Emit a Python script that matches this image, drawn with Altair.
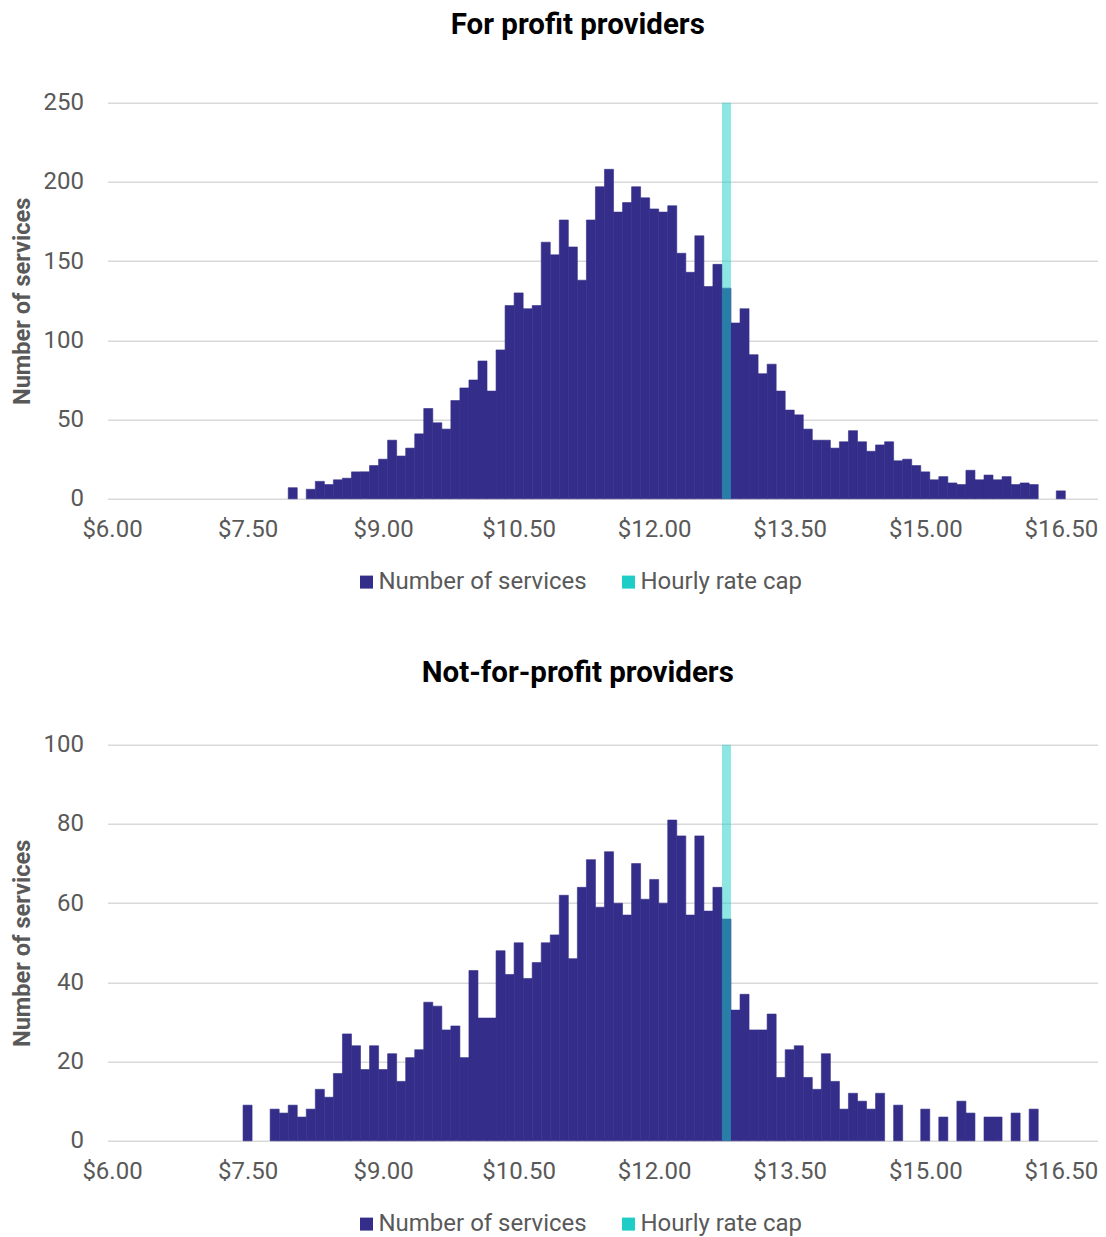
import altair as alt
import pandas as pd

# Price bins: $6.00 ... $16.90 in $0.10 steps (category axis of the histogram)
price_bins = [round(6.0 + 0.1 * i, 2) for i in range(110)]
tick_prices = [6.0, 7.5, 9.0, 10.5, 12.0, 13.5, 15.0, 16.5]

series_names = ["Number of services", "Hourly rate cap"]
cap_price = 12.80

# For profit providers: counts starting at bin index 20 ($8.00)
fp_start = 20
fp_counts = [7, 0, 6, 11, 9, 12, 13, 17, 17, 21, 25, 37, 27, 32, 41, 57, 48, 44, 62, 70,
             75, 87, 68, 94, 122, 130, 120, 122, 162, 154, 176, 159, 138, 176, 197, 208, 181, 187, 197, 190,
             183, 181, 185, 155, 143, 166, 134, 148, 133, 111, 120, 91, 79, 85, 68, 56, 53, 44, 37, 37,
             32, 36, 43, 36, 30, 34, 36, 24, 25, 21, 17, 12, 14, 10, 9, 18, 12, 15, 12, 14,
             9, 10, 9, 0, 0, 5]

# Not-for-profit providers: counts starting at bin index 15 ($7.50)
nfp_start = 15
nfp_counts = [9, 0, 0, 8, 7, 9, 6, 8, 13, 11, 17, 27, 24, 18, 24, 18, 22, 15, 21, 23,
              35, 34, 28, 29, 21, 43, 31, 31, 48, 42, 50, 41, 45, 50, 52, 62, 46, 64, 71, 59,
              73, 60, 57, 70, 61, 66, 60, 81, 77, 57, 77, 58, 64, 56, 33, 37, 28, 28, 32, 16,
              23, 24, 16, 13, 22, 15, 8, 12, 10, 8, 12, 0, 9, 0, 0, 8, 0, 6, 0, 10,
              7, 0, 6, 6, 0, 7, 0, 8]

BAR = "#342E8A"
CAP = "#1DCDC6"
GRAY = "#595959"
FONT = "Roboto"
HALF = 0.05
PLOT_W = 990.5


def panel(title, start, counts, ymax, ystep, title_offset, legend_y):
    prices = price_bins[start:start + len(counts)]
    df = pd.DataFrame({"price": prices, "count": counts})
    df = df[df["count"] > 0].copy()
    df["lo"] = df["price"] - HALF
    df["hi"] = df["price"] + HALF
    df["series"] = series_names[0]

    cap = pd.DataFrame({"price": [cap_price]})
    cap["lo"] = cap["price"] - HALF
    cap["hi"] = cap["price"] + HALF
    cap["base"] = 0
    cap["top"] = ymax

    xscale = alt.Scale(domain=[5.95, 16.9117], nice=False, zero=False)
    yscale = alt.Scale(domain=[0, ymax], nice=False)
    xaxis = alt.Axis(values=tick_prices, labelExpr="'$' + format(datum.value, '.2f')",
                     title=None, grid=False, ticks=False, domain=False,
                     labelFont=FONT, labelFontSize=24, labelColor=GRAY, labelPadding=19,
                     labelFlush=False, labelOverlap=False)
    yaxis = alt.Axis(values=list(range(0, ymax + 1, ystep)), title="Number of services",
                     ticks=False, domain=False, grid=True, gridColor="#D9D9D9", gridWidth=1.5,
                     labelFont=FONT, labelFontSize=24, labelColor=GRAY, labelPadding=24,
                     titleFont=FONT, titleFontSize=23.6, titleFontWeight="bold", titleColor=GRAY,
                     titleX=-85.3, titleY=198, titleAngle=270, titleAlign="center",
                     titleBaseline="middle", titleLimit=600)

    legend = alt.Legend(title=None, orient="none", legendX=247, legendY=legend_y,
                        direction="horizontal", symbolType="square", symbolSize=169,
                        symbolStrokeWidth=0, labelFont=FONT, labelFontSize=24,
                        labelColor=GRAY, labelOffset=0, columnPadding=29, padding=0,
                        labelLimit=600)

    bars = alt.Chart(df).mark_rect(stroke=BAR, strokeWidth=0.6).encode(
        x=alt.X("lo:Q", scale=xscale, axis=xaxis),
        x2="hi:Q",
        y=alt.Y("count:Q", scale=yscale, axis=yaxis),
        y2=alt.Y2(datum=0),
        color=alt.Color("series:N", scale=alt.Scale(domain=series_names, range=[BAR, CAP]),
                        legend=legend),
    )
    capbar = alt.Chart(cap).mark_rect(color=CAP, opacity=0.5).encode(
        x=alt.X("lo:Q", scale=xscale, axis=xaxis),
        x2="hi:Q",
        y=alt.Y("base:Q", scale=yscale, axis=yaxis),
        y2="top:Q",
    )
    return alt.layer(bars, capbar).properties(
        width=PLOT_W, height=396,
        title=alt.TitleParams(title, font=FONT, fontSize=29.5, fontWeight="bold",
                              color="#000000", anchor="middle", dx=-25, offset=title_offset,
                              baseline="alphabetic", limit=900),
    )


top = panel("For profit providers", fp_start, fp_counts, 250, 50, 27.3, 467.3)
bottom = panel("Not-for-profit providers", nfp_start, nfp_counts, 100, 20, 21.5, 467.3)

chart = alt.vconcat(top, bottom, spacing=246, bounds="flush").resolve_legend(
    color="independent"
).properties(
    padding={"left": 1.5, "right": 0, "top": 1.8, "bottom": 0}
).configure_view(stroke=None)

chart.save("out.html", embed_options={"renderer": "svg", "actions": False})
